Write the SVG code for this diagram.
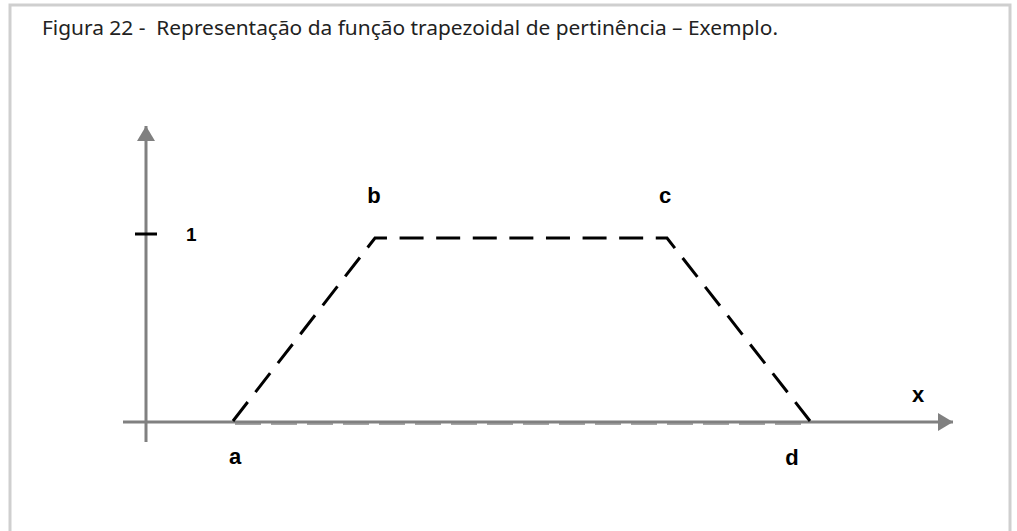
<svg xmlns="http://www.w3.org/2000/svg" width="1017" height="531" viewBox="0 0 1017 531">
  <style>
    .title { font-family: "Noto Sans", "Open Sans", sans-serif; font-size: 19px; fill: #222; white-space: pre; }
    .lbl { font-family: "Liberation Sans", Arial, sans-serif; font-weight: bold; font-size: 22px; fill: #000; text-anchor: middle; }
    .one { font-family: "Liberation Sans", Arial, sans-serif; font-weight: bold; font-size: 19px; fill: #000; }
    .axis { stroke: #808080; stroke-width: 3; fill: none; }
    .trap { stroke: #000; stroke-width: 3; fill: none; stroke-dasharray: 24 12.6; }
  </style>
  <defs>
    <marker id="arr" markerWidth="6" markerHeight="6" refX="5" refY="3" orient="auto" markerUnits="strokeWidth">
      <path d="M0,0 L5,3 L0,6 Z" fill="#808080"/>
    </marker>
  </defs>
  <rect width="1017" height="531" fill="#fff"/>
  <path d="M10,531 V5 H1010 V531" fill="none" stroke="#cfcfcf" stroke-width="3"/>
  <text class="title" x="42" y="35" xml:space="preserve" textLength="736" lengthAdjust="spacingAndGlyphs">Figura 22 -  Representação da função trapezoidal de pertinência – Exemplo.</text>
  <g id="connectors">
    <line id="base-dash" x1="235" y1="423.5" x2="810" y2="423.5" stroke="#a6a6a6" stroke-width="3" stroke-dasharray="26 10"/>
    <line id="y-axis" class="axis" x1="146" y1="442" x2="146" y2="126" marker-end="url(#arr)"/>
    <line id="x-axis" class="axis" x1="123" y1="422" x2="953" y2="422" marker-end="url(#arr)"/>
    <line id="tick" x1="135" y1="234" x2="157" y2="234" stroke="#000" stroke-width="3"/>
    <polyline id="trapezoid" class="trap" points="233,421 375,238 667,238 810,421"/>
  </g>
  <g id="label-1"><text class="one" x="186" y="241">1</text></g>
  <g id="node-a"><text class="lbl" x="235" y="464">a</text></g>
  <g id="node-b"><text class="lbl" x="374" y="203">b</text></g>
  <g id="node-c"><text class="lbl" x="665" y="203">c</text></g>
  <g id="node-d"><text class="lbl" x="792" y="465">d</text></g>
  <g id="node-x"><text class="lbl" x="918" y="402">x</text></g>
</svg>
